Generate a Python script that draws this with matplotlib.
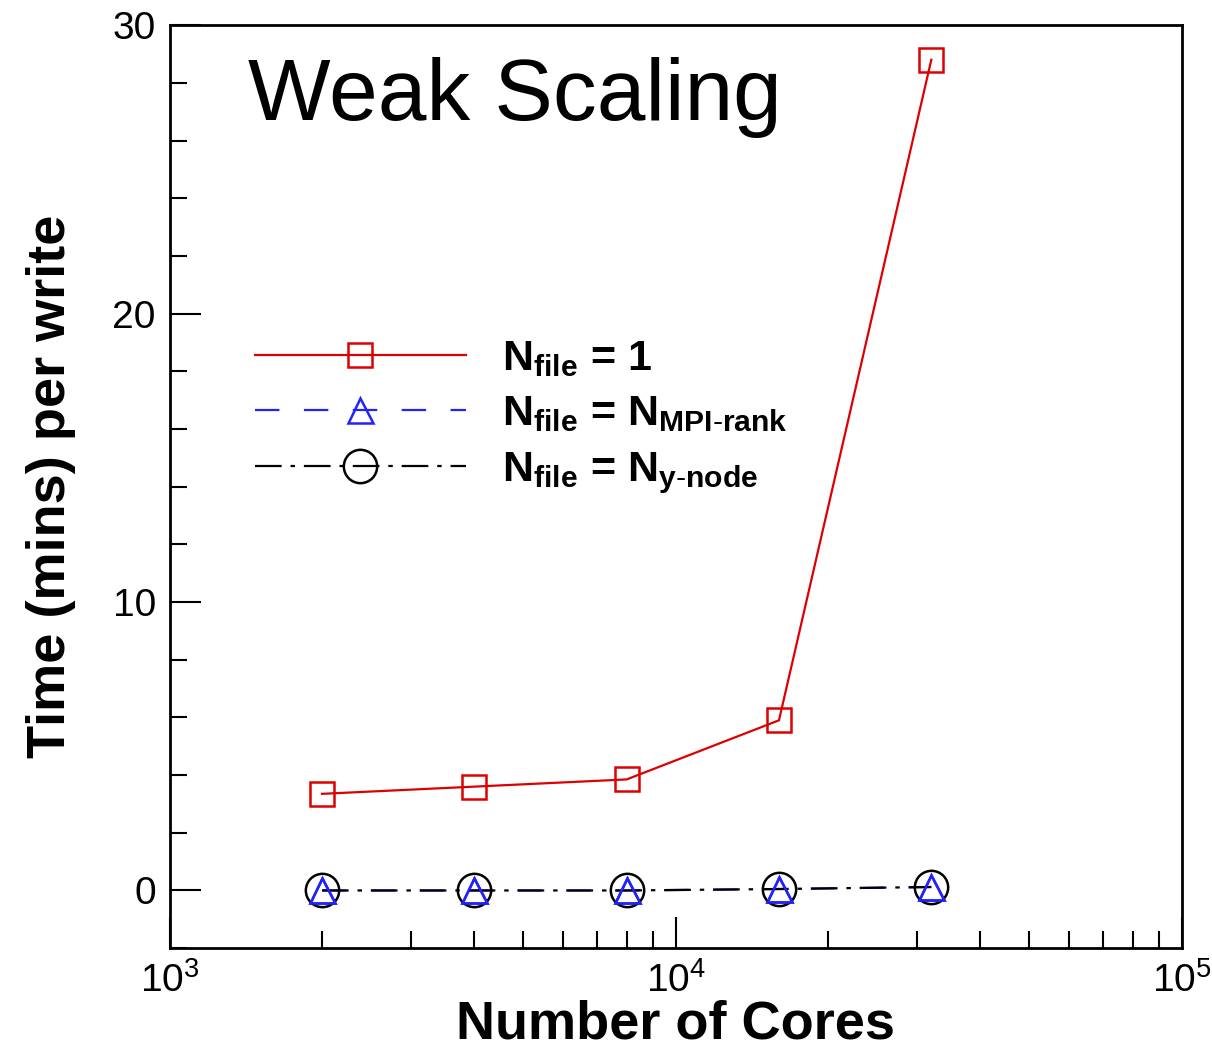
import matplotlib.pyplot as plt
from matplotlib.ticker import MultipleLocator, LogLocator, NullFormatter

plt.rcParams['font.family'] = ['Liberation Sans', 'DejaVu Sans']
plt.rcParams['mathtext.fontset'] = 'custom'
plt.rcParams['mathtext.rm'] = 'Liberation Sans'
plt.rcParams['mathtext.bf'] = 'Liberation Sans:bold'
plt.rcParams['mathtext.it'] = 'Liberation Sans:italic'

# datos
cores = [2000, 4000, 8000, 16000, 32000]
t_single = [3.35, 3.6, 3.85, 5.9, 28.8]
t_mpi_rank = [0.0, 0.0, 0.0, 0.05, 0.12]
t_y_node = [0.0, 0.0, 0.0, 0.05, 0.12]

labels = [r'$\mathbf{N_{file}}$ = 1',
          r'$\mathbf{N_{file}}$ = $\mathbf{N_{MPI\text{-}rank}}$',
          r'$\mathbf{N_{file}}$ = $\mathbf{N_{y\text{-}node}}$']

fig = plt.figure(figsize=(12.12, 10.5), dpi=100)
ax = fig.add_axes([0.140, 0.097, 0.835, 0.879])

# azul primero, la linea negra queda encima
l_mpi, = ax.plot(cores, t_mpi_rank, color='#2222ff', lw=1.6, dashes=(11, 11),
                 marker='^', ms=18, mfc='none', mec='#2222ff', mew=1.8)
l_node, = ax.plot(cores, t_y_node, color='black', lw=1.6, dashes=(12, 4, 2, 4),
                  marker='o', ms=24, mfc='none', mec='black', mew=1.8)
ax.plot(cores, t_mpi_rank, ls='none', marker='^', ms=18, mfc='none',
        mec='#2222ff', mew=1.8)
l_one, = ax.plot(cores, t_single, color='#dd0000', lw=1.6, marker='s', ms=17,
                 mfc='none', mec='#dd0000', mew=1.8)

ax.set_xscale('log')
ax.set_xlim(1e3, 1e5)
ax.set_ylim(-2, 30)
ax.yaxis.set_major_locator(MultipleLocator(10))
ax.yaxis.set_minor_locator(MultipleLocator(2))
ax.xaxis.set_minor_locator(LogLocator(base=10, subs=range(2, 10)))
ax.xaxis.set_minor_formatter(NullFormatter())

ax.tick_params(which='both', direction='in', top=False, right=False,
               labelsize=28, width=1.5, pad=10)
ax.tick_params(which='major', length=22)
ax.tick_params(which='minor', length=12)
for s in ax.spines.values():
    s.set_linewidth(2)

ax.set_xlabel('Number of Cores', fontsize=39, fontweight='bold', labelpad=0)
ax.set_ylabel('Time (mins) per write', fontsize=39, fontweight='bold', labelpad=26)
ax.text(0.077, 0.966, 'Weak Scaling', transform=ax.transAxes, fontsize=63,
        va='top', ha='left')

ax.legend([l_one, l_mpi, l_node], labels,
          loc='upper left', bbox_to_anchor=(0.084, 0.66), frameon=False,
          borderpad=0, borderaxespad=0,
          prop={'size': 31, 'weight': 'bold'}, handlelength=4.9, numpoints=1,
          labelspacing=0.36, handletextpad=0.85)

fig.savefig('out.png', dpi=100)
